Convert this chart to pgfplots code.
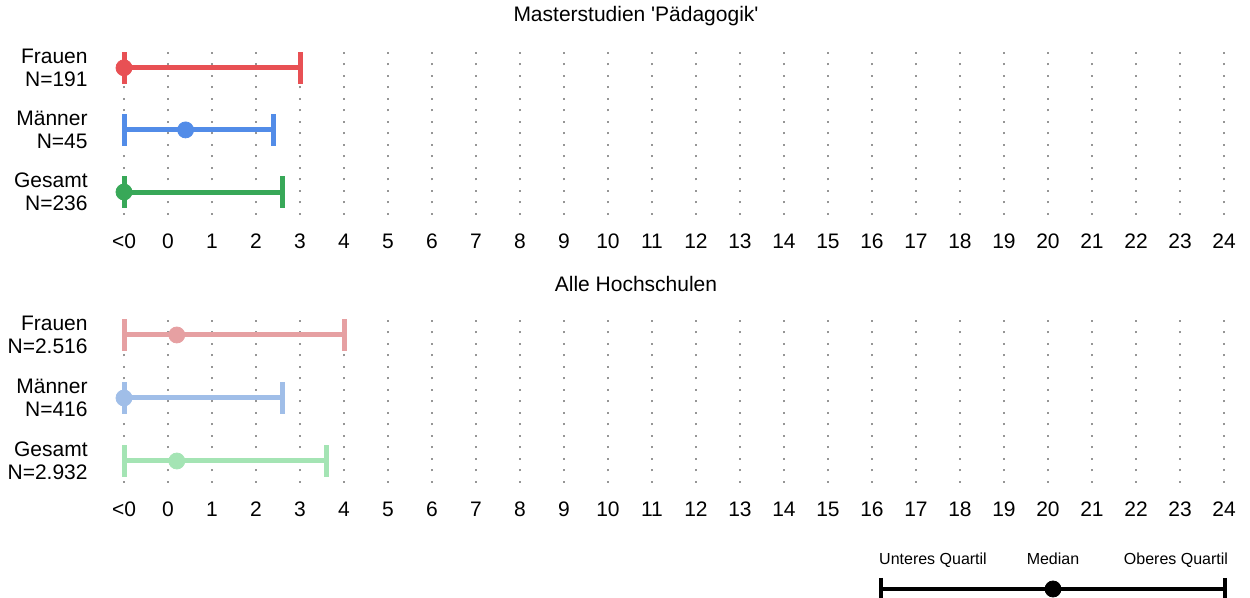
\documentclass[border=0pt]{standalone}
\usepackage{pgfplots}
\pgfplotsset{compat=1.18}
\usepackage{fontspec}
\setmainfont{Liberation Sans}
\definecolor{cR}{RGB}{232,80,84}
\definecolor{cB}{RGB}{82,140,232}
\definecolor{cG}{RGB}{56,168,88}
\definecolor{lR}{RGB}{230,160,162}
\definecolor{lB}{RGB}{160,190,232}
\definecolor{lG}{RGB}{164,228,180}
\definecolor{gridc}{RGB}{150,150,150}
\newcommand{\fs}{\fontsize{10.5}{11.7}\selectfont}
\pgfplotsset{panel/.style={scale only axis, width=550pt, xmin=-1, xmax=24, clip=false,
  anchor=south west,
  axis line style={draw=none}, tick style={draw=none}, major tick length=0pt,
  xtick={-1,0,...,24},
  xticklabels={<0,0,1,2,3,4,5,6,7,8,9,10,11,12,13,14,15,16,17,18,19,20,21,22,23,24},
  xmajorgrids, grid style={color=gridc, line width=1.2pt, dash pattern=on 1.2pt off 4.55pt},
  ytick={1,2,3},
  xticklabel style={anchor=center, yshift=-13pt, font=\fs},
  yticklabel style={anchor=east, align=right, inner sep=0pt, xshift=-18pt, font=\fs}},
  whisk/.style={line width=2.5pt, mark=|, mark size=7.9pt, mark options={solid}},
  med/.style={only marks, mark=*, mark size=4pt}}
\begin{document}
\begin{tikzpicture}
\useasboundingbox (0,0) rectangle (625pt,299pt);
\node[anchor=base, font=\fs] at (318pt,288pt) {Masterstudien \textquotesingle P\"adagogik\textquotesingle};
\node[anchor=base, font=\fs] at (318pt,153pt) {Alle Hochschulen};
\begin{axis}[panel, at={(62pt,191.5pt)}, height=86pt, ymin=0.63, ymax=3.4,
  yticklabels={{Gesamt\\N=236},{M\"anner\\N=45},{Frauen\\N=191}}]
\addplot[cR, whisk] coordinates {(-1,3) (3.0,3)};
\addplot[cR, med] coordinates {(-1,3)};
\addplot[cB, whisk] coordinates {(-1,2) (2.4,2)};
\addplot[cB, med] coordinates {(0.4,2)};
\addplot[cG, whisk] coordinates {(-1,1) (2.6,1)};
\addplot[cG, med] coordinates {(-1,1)};
\end{axis}
\begin{axis}[panel, at={(62pt,57.5pt)}, height=85pt, ymin=0.651, ymax=3.349,
  yticklabels={{Gesamt\\N=2.932},{M\"anner\\N=416},{Frauen\\N=2.516}}]
\addplot[lR, whisk] coordinates {(-1,3) (4.0,3)};
\addplot[lR, med] coordinates {(0.2,3)};
\addplot[lB, whisk] coordinates {(-1,2) (2.6,2)};
\addplot[lB, med] coordinates {(-1,2)};
\addplot[lG, whisk] coordinates {(-1,1) (3.6,1)};
\addplot[lG, med] coordinates {(0.2,1)};
\end{axis}
\begin{axis}[at={(0pt,0pt)}, anchor=south west, scale only axis, width=625pt, height=299pt,
  xmin=0, xmax=1250, ymin=0, ymax=598, y dir=reverse, hide axis, clip=false]
\addplot[black, line width=2pt, mark=|, mark size=5.5pt, mark options={solid}] coordinates {(881,589) (1225,589)};
\addplot[black, only marks, mark=*, mark size=4pt] coordinates {(1053,589)};
\node[anchor=base, font=\fontsize{8}{9}\selectfont] at (axis cs:933,565) {Unteres Quartil};
\node[anchor=base, font=\fontsize{8}{9}\selectfont] at (axis cs:1053,565) {Median};
\node[anchor=base, font=\fontsize{8}{9}\selectfont] at (axis cs:1176,565) {Oberes Quartil};
\end{axis}
\end{tikzpicture}
\end{document}
